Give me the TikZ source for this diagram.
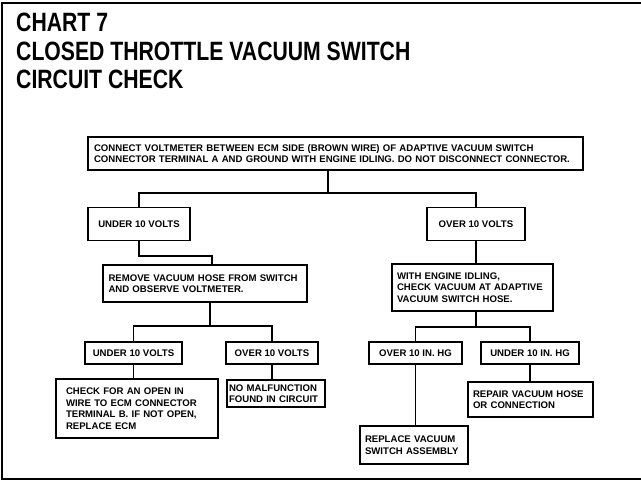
\documentclass[tikz,border=0pt]{standalone}
\usepackage{fontspec}
\setmainfont{Liberation Sans}
\begin{document}
\begin{tikzpicture}[x=1pt,y=-1pt,
  box/.style={draw, line width=1.6pt, inner sep=0pt, font=\fontsize{9.6}{11.5}\selectfont\bfseries,
    execute at begin node={\hyphenpenalty=10000\exhyphenpenalty=10000}},
  link/.style={line width=1.6pt},
  frameline/.style={line width=2pt},
  ttl/.style={anchor=base west, inner sep=0pt, font=\fontsize{26.5}{30}\selectfont\bfseries}]
\useasboundingbox (0,0) rectangle (641,481);
% frame
\draw[frameline] (641,3) -- (2,3) -- (2,479) -- (641,479);
% title
\node[ttl] (t1) at (16,32) {\scalebox{0.8}[1]{CHART 7}};
\node[ttl] (t2) at (16,61) {\scalebox{0.8}[1]{CLOSED THROTTLE VACUUM SWITCH}};
\node[ttl] (t3) at (16,89) {\scalebox{0.8}[1]{CIRCUIT CHECK}};
% boxes
\node[box, minimum width=495pt, minimum height=33pt, text width=483pt, align=left] (top) at (335.5,153.5)
  {CONNECT VOLTMETER BETWEEN ECM SIDE (BROWN WIRE) OF ADAPTIVE VACUUM SWITCH\\CONNECTOR TERMINAL A AND GROUND WITH ENGINE IDLING. DO NOT DISCONNECT CONNECTOR.};
\node[box, minimum width=102pt, minimum height=33pt] (u1) at (139,224) {UNDER 10 VOLTS};
\node[box, minimum width=98pt, minimum height=33pt] (o1) at (476,224) {OVER 10 VOLTS};
\node[box, minimum width=204pt, minimum height=37pt, text width=193pt, align=left] (rem) at (205,283.5)
  {REMOVE VACUUM HOSE FROM SWITCH\\AND OBSERVE VOLTMETER.};
\node[box, minimum width=161pt, minimum height=47pt, text width=151pt, align=left] (with) at (472.5,287.5)
  {WITH ENGINE IDLING,\\CHECK VACUUM AT ADAPTIVE\\VACUUM SWITCH HOSE.};
\node[box, minimum width=97pt, minimum height=22pt] (u2) at (133.5,353) {UNDER 10 VOLTS};
\node[box, minimum width=92pt, minimum height=22pt] (o2) at (272,353) {OVER 10 VOLTS};
\node[box, minimum width=162pt, minimum height=59pt, text width=142pt, align=left] (chk) at (137,408.5)
  {CHECK FOR AN OPEN IN\\WIRE TO ECM CONNECTOR\\TERMINAL B. IF NOT OPEN,\\REPLACE ECM};
\node[box, minimum width=98pt, minimum height=27pt, text width=94pt, align=left] (nom) at (276,393.5)
  {NO MALFUNCTION\\FOUND IN CIRCUIT};
\node[box, minimum width=93pt, minimum height=22pt] (o3) at (415.5,353) {OVER 10 IN. HG};
\node[box, minimum width=98pt, minimum height=22pt] (u3) at (530,353) {UNDER 10 IN. HG};
\node[box, minimum width=125pt, minimum height=35pt, text width=115pt, align=left] (rep) at (530.5,399.5)
  {REPAIR VACUUM HOSE\\OR CONNECTION};
\node[box, minimum width=108pt, minimum height=38pt, text width=98pt, align=left] (repl) at (414,445)
  {REPLACE VACUUM\\SWITCH ASSEMBLY};
% junctions
\coordinate (j1) at (328,193);
\coordinate (e1) at (212,256);
\coordinate (j2) at (210,326);
\coordinate (j3) at (476,327);
% connectors
\draw[link] (top.south -| j1) -- (j1);
\draw[link] (u1.north) |- (j1) -| (o1.north);
\draw[link] (u1.south) |- (e1) -- (e1 |- rem.north);
\draw[link] (rem.south -| j2) -- (j2);
\draw[link] (u2.north) |- (j2) -| (o2.north);
\draw[link] (u2.south) -- (u2.south |- chk.north);
\draw[link] (o2.south) -- (o2.south |- nom.north);
\draw[link] (o1.south) -- (o1.south |- with.north);
\draw[link] (with.south -| j3) -- (j3);
\draw[link] (o3.north) |- (j3) -| (u3.north);
\draw[link] (o3.south) -- (o3.south |- repl.north);
\draw[link] (u3.south) -- (u3.south |- rep.north);
\end{tikzpicture}
\end{document}
